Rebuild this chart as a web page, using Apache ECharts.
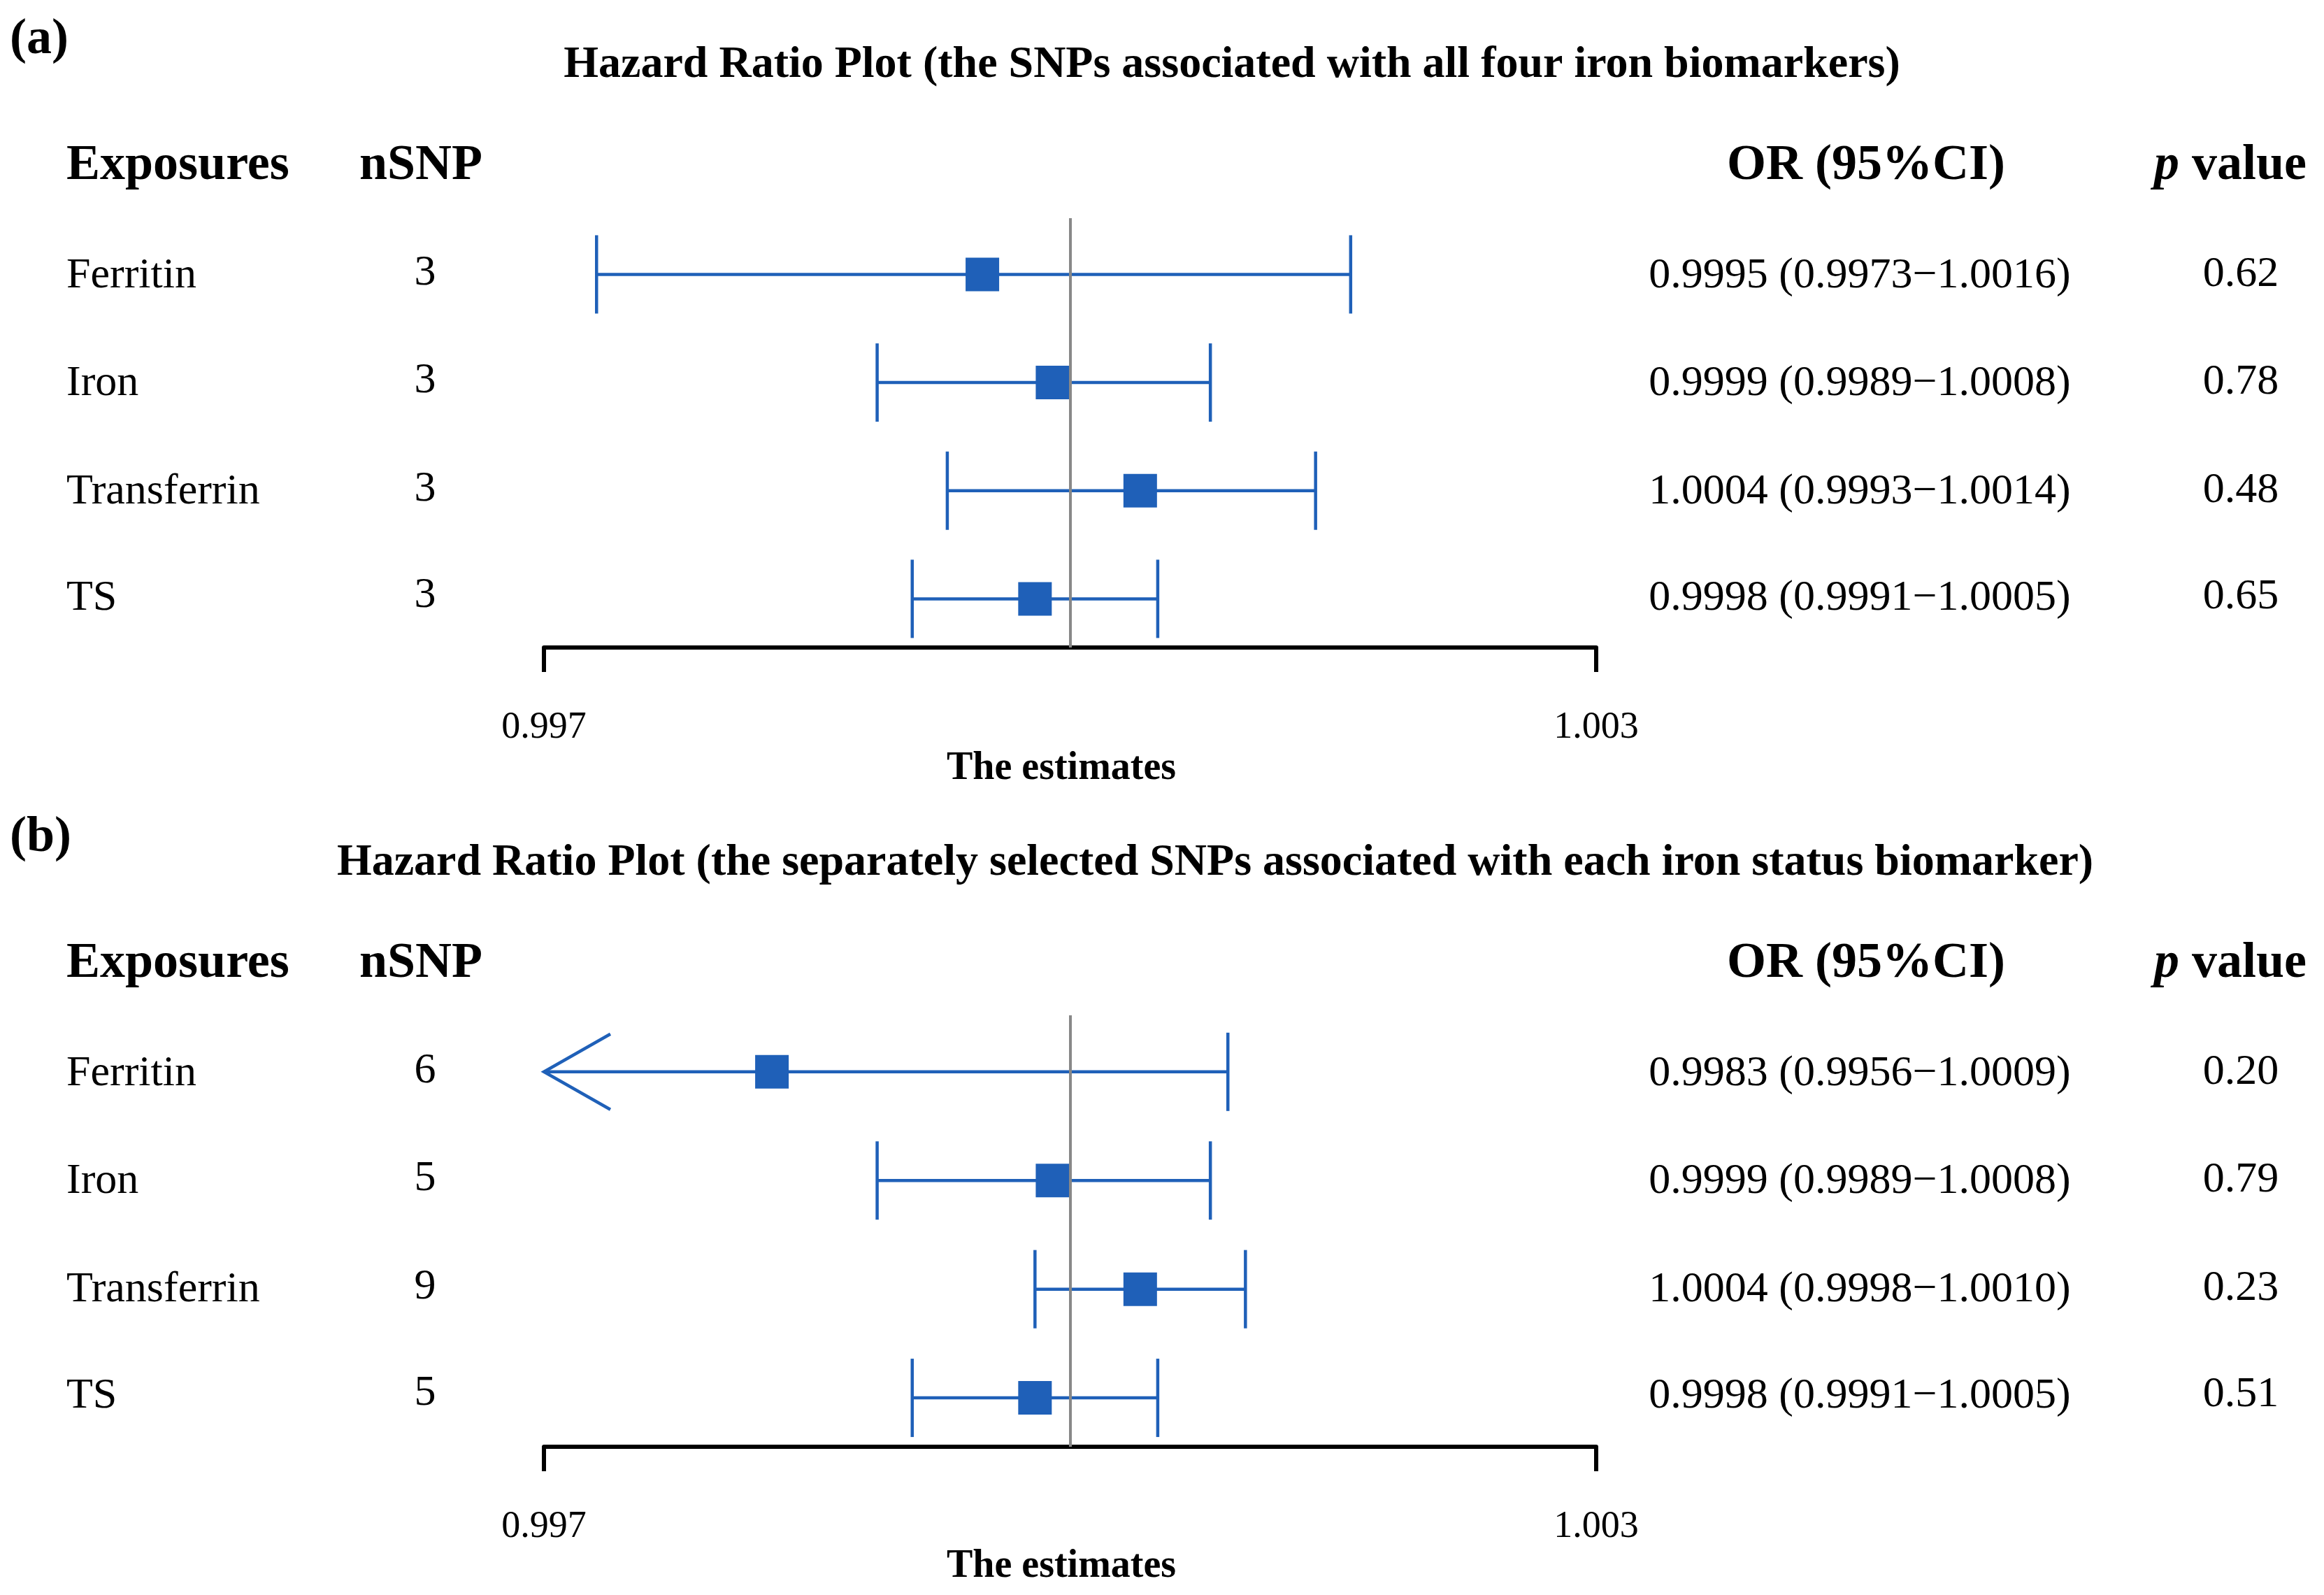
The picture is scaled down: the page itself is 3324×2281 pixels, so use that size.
<!DOCTYPE html>
<html lang="en">
<head>
<meta charset="UTF-8">
<title>Hazard Ratio Plot</title>
<script src="https://cdn.jsdelivr.net/npm/echarts@6/dist/echarts.min.js"></script>
<style>html,body{margin:0;background:#fff}#main{width:3324px;height:2281px}</style>
</head>
<body>
<div id="main"></div>
<script>
// data
var exposures = ['Ferritin', 'Iron', 'Transferrin', 'TS'];
var nsnpA = [3, 3, 3, 3];
var estA = [0.9995, 0.9999, 1.0004, 0.9998];
var lowA = [0.9973, 0.9989, 0.9993, 0.9991];
var highA = [1.0016, 1.0008, 1.0014, 1.0005];
var pA = ['0.62', '0.78', '0.48', '0.65'];
var nsnpB = [6, 5, 9, 5];
var estB = [0.9983, 0.9999, 1.0004, 0.9998];
var lowB = [0.9956, 0.9989, 0.9998, 0.9991];
var highB = [1.0009, 1.0008, 1.0010, 1.0005];
var pB = ['0.20', '0.79', '0.23', '0.51'];
var xTicks = [0.997, 1.003];
var titles = ['Hazard Ratio Plot (the SNPs associated with all four iron biomarkers)',
              'Hazard Ratio Plot (the separately selected SNPs associated with each iron status biomarker)'];

var BLUE = '#1f60b8';
var FONT = 'Liberation Serif';
var XMIN = 0.997, XMAX = 1.003;

var myChart = echarts.init(document.getElementById('main'));

var grids = [{left: 778, width: 1505, top: 312, height: 614},
             {left: 778, width: 1505, top: 1452, height: 617}];
var offs = [0, 1141];
var rowsY = [395, 549, 704, 856]; // text centers for panel a

function errBar(params, api) {
    var y = api.value(0);
    var lo = api.value(1), hi = api.value(2);
    var clipped = lo < XMIN;
    var p0 = api.coord([Math.max(lo, XMIN), y]);
    var p1 = api.coord([hi, y]);
    var st = {stroke: BLUE, lineWidth: 4.5, fill: null};
    var kids = [{type: 'line', shape: {x1: p0[0], y1: p0[1], x2: p1[0], y2: p1[1]}, style: st},
                {type: 'line', shape: {x1: p1[0], y1: p1[1] - 56, x2: p1[0], y2: p1[1] + 56}, style: st}];
    if (clipped) {
        kids.push({type: 'polyline', shape: {points: [[p0[0] + 95, p0[1] - 54], [p0[0], p0[1]], [p0[0] + 95, p0[1] + 54]]}, style: st});
    } else {
        kids.push({type: 'line', shape: {x1: p0[0], y1: p0[1] - 56, x2: p0[0], y2: p0[1] + 56}, style: st});
    }
    return {type: 'group', children: kids};
}

var xAxes = [], yAxes = [], series = [], graphic = [];
[[estA, lowA, highA, nsnpA, pA], [estB, lowB, highB, nsnpB, pB]].forEach(function (set, g) {
    xAxes.push({
        gridIndex: g, type: 'value', min: XMIN, max: XMAX,
        splitLine: {show: false},
        axisLine: {show: true, onZero: false, lineStyle: {color: '#000', width: 6}},
        axisTick: {show: true, customValues: xTicks, length: 35, inside: false, lineStyle: {color: '#000', width: 6}},
        axisLabel: {customValues: xTicks, margin: 88, fontFamily: FONT, fontSize: 54, color: '#000',
                    formatter: function (v) { return v.toFixed(3); }}
    });
    yAxes.push({gridIndex: g, type: 'value', min: -0.52, max: 3.45, inverse: true, show: false});
    var bars = [], pts = [];
    for (var i = 0; i < exposures.length; i++) {
        bars.push([i, set[1][i], set[2][i]]);
        pts.push([set[0][i], i]);
    }
    series.push({
        type: 'custom', xAxisIndex: g, yAxisIndex: g, renderItem: errBar,
        encode: {x: [1, 2], y: 0}, data: bars, z: 2,
        markLine: {silent: true, symbol: 'none', label: {show: false},
                   lineStyle: {color: '#888', width: 4, type: 'solid'}, data: [{xAxis: 1.0}]}
    });
    series.push({
        type: 'scatter', xAxisIndex: g, yAxisIndex: g, symbol: 'rect', symbolSize: 48,
        itemStyle: {color: BLUE, opacity: 1}, data: pts, z: 3
    });

    var o = offs[g];
    var txt = function (x, y, s, align, size, bold) {
        graphic.push({type: 'text', x: x, y: y, style: {text: s, fill: '#000', fontFamily: FONT, fontSize: size,
                      fontWeight: bold ? 'bold' : 'normal', align: align, verticalAlign: 'middle'}});
    };
    txt(14, 57 + o, g === 0 ? '(a)' : '(b)', 'left', 72, true);
    txt(g === 0 ? 1762 : 1738, 93 + o, titles[g], 'center', 64, true);
    txt(95, 237 + o, 'Exposures', 'left', 72, true);
    txt(602, 237 + o, 'nSNP', 'center', 72, true);
    txt(2669, 237 + o, 'OR (95%CI)', 'center', 72, true);
    graphic.push({type: 'text', x: 3190, y: 237 + o, style: {
        text: '{i|p} value', fill: '#000', fontFamily: FONT, fontSize: 72, fontWeight: 'bold',
        align: 'center', verticalAlign: 'middle',
        rich: {i: {fontStyle: 'italic', fontWeight: 'bold', fontSize: 72, fontFamily: FONT}}}});
    for (var k = 0; k < exposures.length; k++) {
        var y = rowsY[k] + o;
        txt(95, y, exposures[k], 'left', 62, false);
        txt(608, y - 4, String(set[3][k]), 'center', 62, false);
        txt(2660, y, set[0][k].toFixed(4) + ' (' + set[1][k].toFixed(4) + '\u2212' + set[2][k].toFixed(4) + ')', 'center', 62, false);
        txt(3205, y - 2, set[4][k], 'center', 62, false);
    }
    txt(1518, 1100 + o, 'The estimates', 'center', 56, true);
});

myChart.setOption({
    animation: false,
    backgroundColor: '#fff',
    grid: grids,
    xAxis: xAxes,
    yAxis: yAxes,
    series: series,
    graphic: graphic
});
</script>
</body>
</html>
